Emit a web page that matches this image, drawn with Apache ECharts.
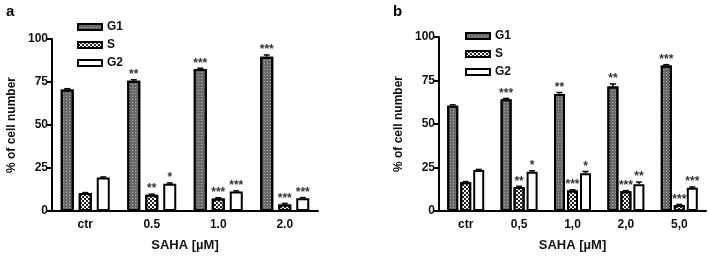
<!DOCTYPE html>
<html>
<head>
<meta charset="utf-8">
<script src="https://cdn.jsdelivr.net/npm/echarts@6/dist/echarts.min.js"></script>
<style>html,body{margin:0;padding:0;background:#fff}#c{width:709px;height:257px}</style>
</head>
<body>
<div id="c"></div>
<script>
// Panel a
const catsA = ['ctr', '0.5', '1.0', '2.0'];
const g1A = [70.6, 75.7, 82.5, 89.7];
const sA = [10.4, 9.4, 7.3, 3.8];
const g2A = [19.5, 15.8, 11.4, 7.4];
const g1AErr = [0.5, 0.6, 0.5, 1.0];
const sAErr = [0.3, 0.4, 0.4, 0.6];
const g2AErr = [0.3, 0.5, 0.3, 0.4];
const g1ASig = ['', '**', '***', '***'];
const sASig = ['', '**', '***', '***'];
const g2ASig = ['', '*', '***', '***'];
// Panel b
const catsB = ['ctr', '0,5', '1,0', '2,0', '5,0'];
const g1B = [60.5, 64.2, 67.3, 71.5, 83.6];
const sB = [16.5, 13.8, 11.8, 11.3, 3.4];
const g2B = [23.6, 22.6, 21.7, 15.4, 13.3];
const g1BErr = [0.5, 0.5, 0.8, 1.5, 0.5];
const sBErr = [0.4, 0.4, 0.4, 0.4, 0.4];
const g2BErr = [0.3, 0.5, 1.0, 1.2, 0.5];
const g1BSig = ['', '***', '**', '**', '***'];
const sBSig = ['', '**', '***', '***', '***'];
const g2BSig = ['', '*', '*', '**', '***'];
const yTicks = [0, 25, 50, 75, 100];
const seriesNames = ['G1', 'S', 'G2'];

const FONT = 'Liberation Sans';
const styles = {
  G1: { color: '#6a6a6a', borderColor: '#000', borderWidth: 2,
        decal: { symbol: 'rect', symbolSize: 1, color: '#a8a8a8', dashArrayX: [1, 2], dashArrayY: [1, 2] } },
  S: { color: '#ffffff', borderColor: '#000', borderWidth: 2,
       decal: { symbol: 'rect', symbolSize: 1, color: '#222', dashArrayX: [[2, 2], [0, 2, 2, 0]], dashArrayY: [2, 0] } },
  G2: { color: '#ffffff', borderColor: '#000', borderWidth: 2 }
};

function xAxis(idx, cats) {
  return {
    type: 'category', gridIndex: idx, data: cats,
    name: 'SAHA [\u00B5M]', nameLocation: 'middle', nameGap: 28,
    nameTextStyle: { fontFamily: FONT, fontWeight: 'bold', fontSize: 13, color: '#111' },
    axisLine: { lineStyle: { color: '#000', width: 2 } },
    axisTick: { alignWithLabel: true, length: 5, lineStyle: { color: '#000', width: 2 } },
    axisLabel: { fontFamily: FONT, fontWeight: 'bold', fontSize: 12, color: '#111', margin: 8 }
  };
}
function yAxis(idx) {
  return {
    type: 'value', gridIndex: idx, min: 0, max: 100, interval: 25,
    name: '% of cell number', nameLocation: 'middle', nameGap: 34, nameRotate: 90,
    nameTextStyle: { fontFamily: FONT, fontWeight: 'bold', fontSize: 12, color: '#111' },
    splitLine: { show: false },
    axisLine: { show: true, lineStyle: { color: '#000', width: 2 } },
    axisTick: { show: true, length: 5, lineStyle: { color: '#000', width: 2 } },
    axisLabel: { fontFamily: FONT, fontWeight: 'bold', fontSize: 12, color: '#111', margin: 4,
                 formatter: v => yTicks.includes(v) ? String(v) : '' }
  };
}
function bar(idx, name, data, barWidth, barGap) {
  return { type: 'bar', name: name, xAxisIndex: idx, yAxisIndex: idx, data: data,
           barWidth: barWidth, barGap: barGap, itemStyle: styles[name], z: 2 };
}
function errSeries(idx, vals, errs, sigs, offsetPx) {
  return {
    type: 'custom', xAxisIndex: idx, yAxisIndex: idx, z: 5, silent: true,
    data: vals.map((v, i) => [i, v, errs[i]]),
    renderItem: function (params, api) {
      const i = api.value(0), v = api.value(1), e = api.value(2);
      const base = api.coord([i, v]);
      const top = api.coord([i, v + e]);
      const x = base[0] + offsetPx;
      const children = [
        { type: 'line', shape: { x1: x, y1: base[1], x2: x, y2: top[1] }, style: { stroke: '#000', lineWidth: 1.5 } },
        { type: 'line', shape: { x1: x - 3, y1: top[1], x2: x + 3, y2: top[1] }, style: { stroke: '#000', lineWidth: 1.5 } }
      ];
      const s = sigs[i];
      if (s) {
        children.push({ type: 'text', style: { text: s, x: x, y: top[1] + 1, align: 'center', verticalAlign: 'bottom',
          font: 'bold 12px "' + FONT + '"', fill: '#333' } });
      }
      return { type: 'group', children: children };
    }
  };
}
function legend(left, top) {
  return {
    orient: 'vertical', left: left, top: top, itemWidth: 24, itemHeight: 6, itemGap: 6,
    icon: 'rect', data: seriesNames, selectedMode: false,
    textStyle: { fontFamily: FONT, fontWeight: 'bold', fontSize: 12, color: '#111' }
  };
}

const wA = 13, gA = 5, wB = 11, gB = 2;
const option = {
  animation: false,
  grid: [
    { left: 52, top: 39, width: 266, height: 177 },
    { left: 439, top: 37, width: 267, height: 177 }
  ],
  legend: [legend(72, 16), legend(460, 25)],
  xAxis: [xAxis(0, catsA), xAxis(1, catsB)],
  yAxis: [yAxis(0), yAxis(1)],
  graphic: [
    { type: 'text', left: 6, top: 4, style: { text: 'a', font: 'bold 15px "' + FONT + '"', fill: '#000' } },
    { type: 'text', left: 393, top: 4, style: { text: 'b', font: 'bold 15px "' + FONT + '"', fill: '#000' } }
  ],
  series: [
    bar(0, 'G1', g1A, wA, (gA / wA * 100) + '%'),
    bar(0, 'S', sA, wA, (gA / wA * 100) + '%'),
    bar(0, 'G2', g2A, wA, (gA / wA * 100) + '%'),
    bar(1, 'G1', g1B, wB, (gB / wB * 100) + '%'),
    bar(1, 'S', sB, wB, (gB / wB * 100) + '%'),
    bar(1, 'G2', g2B, wB, (gB / wB * 100) + '%'),
    errSeries(0, g1A, g1AErr, g1ASig, -(wA + gA)),
    errSeries(0, sA, sAErr, sASig, 0),
    errSeries(0, g2A, g2AErr, g2ASig, (wA + gA)),
    errSeries(1, g1B, g1BErr, g1BSig, -(wB + gB)),
    errSeries(1, sB, sBErr, sBSig, 0),
    errSeries(1, g2B, g2BErr, g2BSig, (wB + gB))
  ]
};
const chart = echarts.init(document.getElementById('c'), null, { renderer: 'canvas' });
chart.setOption(option);
</script>
</body>
</html>
